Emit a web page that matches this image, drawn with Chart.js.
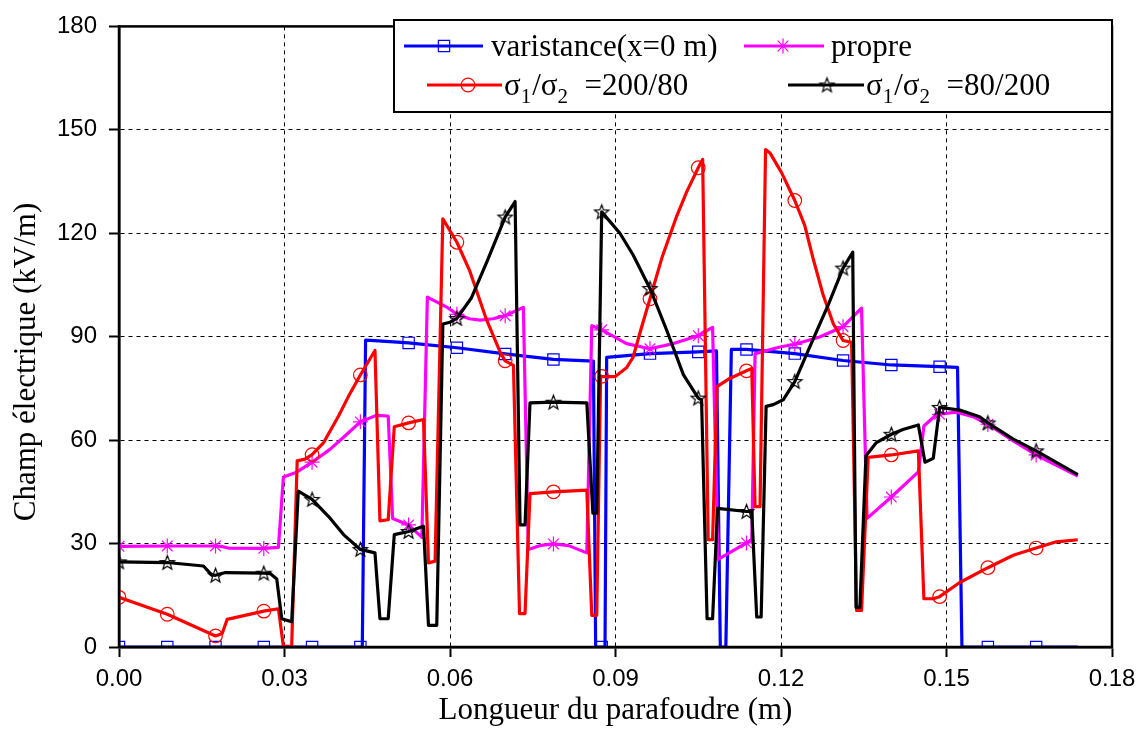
<!DOCTYPE html>
<html>
<head>
<meta charset="utf-8">
<title>Champ électrique le long du parafoudre</title>
<script src="https://cdn.jsdelivr.net/npm/chart.js@4.4.0/dist/chart.umd.min.js"></script>
<style>
  body { margin: 0; background: #fff; }
  #myChart { display: block; }
</style>
</head>
<body>
<canvas id="myChart" width="1146" height="751"></canvas>
<script>
// DATA (x in m, y in kV/m)
const markerX = [0, 0.00875, 0.0175, 0.02625, 0.035, 0.04375, 0.0525, 0.06125, 0.07, 0.07875,
  0.0875, 0.09625, 0.105, 0.11375, 0.1225, 0.13125, 0.14, 0.14875, 0.1575, 0.16625];

const varistance = [
  [0, 0], [0.00875, 0], [0.0175, 0], [0.02625, 0], [0.035, 0], [0.04375, 0], [0.0441, 0],
  [0.0447, 89.0], [0.047, 88.8], [0.0525, 88.2], [0.06125, 86.8], [0.07, 85.0], [0.07875, 83.4],
  [0.086, 82.9], [0.0864, 0], [0.0875, 0], [0.0881, 0], [0.0884, 84.0], [0.09625, 85.1],
  [0.105, 85.6], [0.1083, 85.9], [0.109, 0], [0.11, 0], [0.111, 86.3], [0.11375, 86.3],
  [0.1225, 85.1], [0.13125, 83.1], [0.14, 81.8], [0.14875, 81.3], [0.152, 81.1], [0.1528, 0],
  [0.1575, 0], [0.16625, 0], [0.1738, 0]
];

const propre = [
  [0, 29.2], [0.00875, 29.3], [0.0175, 29.3], [0.0185, 29.2], [0.0198, 28.7], [0.02625, 28.6],
  [0.0289, 28.9], [0.0298, 49.3], [0.0322, 50.7], [0.035, 53.6], [0.0383, 57.4], [0.0413, 61.7],
  [0.04375, 65.3], [0.0467, 67.2], [0.0488, 67.0], [0.0496, 37.3], [0.0525, 35.4], [0.0549, 31.8],
  [0.0559, 101.5], [0.0594, 98.6], [0.06125, 96.5], [0.0635, 95.2], [0.0655, 94.8], [0.0678, 95.2],
  [0.07, 96.1], [0.0733, 98.5], [0.0742, 28.3], [0.0765, 29.5], [0.07875, 29.9], [0.0815, 29.4],
  [0.0848, 27.3], [0.0857, 93.2], [0.0875, 92.0], [0.092, 88.0], [0.09625, 86.5], [0.1005, 88.0],
  [0.105, 90.3], [0.1076, 92.7], [0.1086, 25.4], [0.11375, 30.2], [0.1147, 31.1], [0.1153, 85.1],
  [0.1198, 87.0], [0.1225, 87.8], [0.127, 89.9], [0.13125, 92.9], [0.1346, 98.3], [0.1356, 37.3],
  [0.14, 43.5], [0.1449, 50.8], [0.1459, 64.1], [0.1479, 67.0], [0.14875, 67.5], [0.1518, 68.1],
  [0.1548, 66.8], [0.1575, 64.6], [0.1621, 59.8], [0.16625, 55.7], [0.1738, 49.6]
];

const ratio200_80 = [
  [0, 14.4], [0.00875, 9.5], [0.0165, 3.9], [0.0175, 3.2], [0.0187, 3.9], [0.0196, 8.0],
  [0.02625, 10.4], [0.0289, 11.1], [0.0298, 0.2], [0.0313, 0.2], [0.0323, 54.0], [0.0337, 54.5],
  [0.035, 55.8], [0.0371, 59.3], [0.0398, 67.0], [0.0416, 72.7], [0.04375, 78.9], [0.0464, 86.0],
  [0.0473, 36.6], [0.0488, 36.9], [0.0499, 63.9], [0.0525, 65.0], [0.0552, 66.0], [0.0561, 24.4],
  [0.0573, 24.9], [0.0587, 124.2], [0.06125, 117.4], [0.0636, 109.0], [0.0666, 95.0], [0.0691, 85.5],
  [0.07, 83.0], [0.0715, 81.7], [0.0726, 9.7], [0.0736, 9.7], [0.0745, 44.5], [0.07875, 45.0],
  [0.0848, 45.5], [0.0857, 9.2], [0.0866, 9.2], [0.0873, 78.6], [0.0875, 78.5], [0.0899, 78.4],
  [0.092, 81.0], [0.0932, 84.1], [0.0945, 91.5], [0.09625, 101.0], [0.0984, 112.8], [0.1011, 125.0],
  [0.1029, 132.0], [0.105, 139.0], [0.1058, 141.4], [0.1068, 31.1], [0.1076, 31.1], [0.1084, 75.5],
  [0.1107, 77.9], [0.11375, 80.1], [0.1147, 80.8], [0.1153, 40.7], [0.1162, 40.7], [0.1172, 144.3],
  [0.118, 143.3], [0.1201, 137.6], [0.1225, 129.5], [0.1243, 122.3], [0.1258, 112.8], [0.1276, 102.3],
  [0.1295, 93.7], [0.13125, 88.9], [0.1328, 88.4], [0.1337, 10.6], [0.1346, 10.6], [0.1358, 55.0],
  [0.14, 55.7], [0.1449, 56.9], [0.1459, 14.0], [0.1476, 14.0], [0.14875, 14.6], [0.1524, 18.7],
  [0.1575, 23.0], [0.1621, 26.6], [0.16625, 28.7], [0.1699, 30.5], [0.1738, 31.1]
];

const ratio80_200 = [
  [0, 24.7], [0.00875, 24.5], [0.0153, 23.5], [0.0168, 20.9], [0.0175, 20.8], [0.0193, 21.6],
  [0.02625, 21.4], [0.0274, 21.3], [0.0286, 19.7], [0.0295, 8.2], [0.0313, 7.3], [0.0325, 45.2],
  [0.035, 42.8], [0.0383, 37.3], [0.0407, 32.6], [0.04375, 28.3], [0.0464, 27.3], [0.0473, 8.2],
  [0.0488, 8.2], [0.0499, 32.6], [0.0525, 33.5], [0.0552, 35.0], [0.0561, 6.3], [0.0576, 6.3],
  [0.0587, 93.7], [0.06, 94.2], [0.06125, 95.3], [0.0639, 101.3], [0.0667, 111.8], [0.07, 124.7],
  [0.0718, 129.2], [0.0727, 35.4], [0.0736, 35.4], [0.0745, 70.8], [0.07875, 71.0], [0.0848, 70.8],
  [0.0859, 38.8], [0.0866, 38.8], [0.0875, 126.2], [0.0908, 120.0], [0.0932, 113.7], [0.09625, 104.0],
  [0.0993, 91.8], [0.1023, 79.0], [0.105, 72.2], [0.1056, 71.7], [0.1066, 8.2], [0.1076, 8.2],
  [0.1085, 40.2], [0.11375, 39.3], [0.1147, 39.3], [0.1156, 8.7], [0.1164, 8.7], [0.1173, 69.8],
  [0.1186, 70.3], [0.1204, 71.7], [0.1225, 77.0], [0.1252, 87.0], [0.1286, 99.4], [0.13125, 109.9],
  [0.133, 114.5], [0.1336, 11.5], [0.1343, 11.5], [0.1354, 55.5], [0.1373, 59.3], [0.14, 61.7],
  [0.1421, 63.1], [0.1449, 64.4], [0.1461, 53.6], [0.1476, 54.7], [0.14875, 69.5], [0.1524, 68.7],
  [0.156, 66.8], [0.1575, 65.0], [0.1621, 60.3], [0.16625, 56.9], [0.1738, 50.0]
];

const xTicks = [0, 0.03, 0.06, 0.09, 0.12, 0.15, 0.18];
const yTicks = [0, 30, 60, 90, 120, 150, 180];

const labels = ['varistance(x=0 m)', 'propre', 'σ1/σ2 =200/80', 'σ1/σ2 =80/200'];
const colors = ['#0000ff', '#ff00ff', '#ff0000', '#000000'];
const yTitle = 'Champ électrique (kV/m)';

const serif = "'Liberation Serif', 'Times New Roman', serif";
const sans = "'Liberation Sans', Arial, sans-serif";

// HELPERS
function toPoints(arr) {
  return arr.map(p => ({x: p[0], y: p[1]}));
}

function isMark(x) {
  return markerX.some(m => Math.abs(m - x) < 1e-7);
}

function makeStar(r, color) {
  const c = document.createElement('canvas');
  const s = Math.ceil(r * 2 + 4);
  c.width = s;
  c.height = s;
  const g = c.getContext('2d');
  g.strokeStyle = color;
  g.lineWidth = 1.2;
  g.beginPath();
  for (let i = 0; i < 10; i++) {
    const rad = i % 2 === 0 ? r : r * 0.42;
    const a = -Math.PI / 2 + i * Math.PI / 5;
    const px = s / 2 + rad * Math.cos(a);
    const py = s / 2 + 0.5 + rad * Math.sin(a);
    if (i === 0) g.moveTo(px, py); else g.lineTo(px, py);
  }
  g.closePath();
  g.stroke();
  return c;
}

const starImg = makeStar(7.5, '#000');
const styles = ['rect', 'star', 'circle', starImg];
const radii = [8, 7.5, 6.8, 7.5];

function makeDataset(i, arr) {
  return {
    label: labels[i],
    data: toPoints(arr),
    borderColor: colors[i],
    backgroundColor: 'rgba(0,0,0,0)',
    borderWidth: 3.2,
    tension: 0,
    borderJoinStyle: 'round',
    pointStyle: styles[i],
    pointBorderColor: colors[i],
    pointBackgroundColor: 'rgba(0,0,0,0)',
    pointBorderWidth: 1.2,
    pointRadius: ctx => (ctx.raw && isMark(ctx.raw.x)) ? radii[i] : 0,
    order: 4 - i
  };
}

// draw one legend marker by hand
function drawMarker(ctx, i, x, y) {
  ctx.save();
  ctx.strokeStyle = colors[i];
  ctx.lineWidth = 1.2;
  ctx.beginPath();
  if (i === 0) {
    const h = radii[0] * Math.SQRT1_2;
    ctx.rect(x - h, y - h, 2 * h, 2 * h);
  } else if (i === 1) {
    const r = radii[1];
    ctx.moveTo(x - r, y); ctx.lineTo(x + r, y);
    ctx.moveTo(x, y - r); ctx.lineTo(x, y + r);
    const d = r * Math.SQRT1_2;
    ctx.moveTo(x - d, y - d); ctx.lineTo(x + d, y + d);
    ctx.moveTo(x - d, y + d); ctx.lineTo(x + d, y - d);
  } else if (i === 2) {
    ctx.arc(x, y, radii[2], 0, Math.PI * 2);
  }
  ctx.stroke();
  if (i === 3) ctx.drawImage(starImg, x - starImg.width / 2, y - starImg.height / 2);
  ctx.restore();
}

function drawSigmaText(ctx, x, y, tail) {
  const parts = [['σ', 0], ['1', 1], ['/σ', 0], ['2', 1], [tail, 0]];
  parts.forEach(p => {
    ctx.font = p[1] ? '21px ' + serif : '31px ' + serif;
    ctx.fillText(p[0], x, y + (p[1] ? 8 : 0));
    x += ctx.measureText(p[0]).width + (p[1] ? 1 : 0);
  });
}

// PLUGINS
const framePlugin = {
  id: 'frame',
  afterDraw(chart) {
    const {ctx, chartArea: a} = chart;
    ctx.save();
    ctx.strokeStyle = '#000';
    ctx.lineWidth = 2.5;
    ctx.strokeRect(a.left, a.top, a.right - a.left, a.bottom - a.top);
    // y axis title, drawn by hand to sit a bit below the axis middle
    ctx.translate(27, 362);
    ctx.rotate(-Math.PI / 2);
    ctx.font = '31px ' + serif;
    ctx.fillStyle = '#000';
    ctx.textAlign = 'center';
    ctx.textBaseline = 'middle';
    ctx.fillText(yTitle, 0, 0);
    ctx.restore();
  }
};

const legendPlugin = {
  id: 'boxLegend',
  afterDraw(chart) {
    const ctx = chart.ctx;
    const box = {left: 394, top: 20, right: 1112, bottom: 112};
    ctx.save();
    ctx.fillStyle = '#fff';
    ctx.fillRect(box.left, box.top, box.right - box.left, box.bottom - box.top);
    ctx.strokeStyle = '#000';
    ctx.lineWidth = 2;
    ctx.strokeRect(box.left, box.top, box.right - box.left, box.bottom - box.top);

    // [x1, x2, markerX, textX, rowY]
    const items = [
      [404, 483, 444, 491, 46],
      [744, 824, 783, 831, 46],
      [427, 502, 468, 504, 85],
      [788, 864, 827, 866, 85]
    ];
    items.forEach((it, i) => {
      ctx.strokeStyle = colors[i];
      ctx.lineWidth = 3.2;
      ctx.beginPath();
      ctx.moveTo(it[0], it[4]);
      ctx.lineTo(it[1], it[4]);
      ctx.stroke();
      drawMarker(ctx, i, it[2], it[4]);
      ctx.fillStyle = '#000';
      ctx.textBaseline = 'alphabetic';
      ctx.textAlign = 'left';
      if (i < 2) {
        ctx.font = '31px ' + serif;
        ctx.fillText(labels[i], it[3], it[4] + 10);
      } else {
        drawSigmaText(ctx, it[3], it[4] + 10, i === 2 ? '  =200/80' : '  =80/200');
      }
    });
    ctx.restore();
  }
};

// CHART
const config = {
  type: 'line',
  data: {
    datasets: [
      makeDataset(0, varistance),
      makeDataset(1, propre),
      makeDataset(2, ratio200_80),
      makeDataset(3, ratio80_200)
    ]
  },
  options: {
    responsive: false,
    animation: false,
    devicePixelRatio: 1,
    events: [],
    layout: { padding: { top: 19, right: 34, left: 0, bottom: 0 } },
    plugins: { legend: { display: false }, tooltip: { enabled: false } },
    scales: {
      x: {
        type: 'linear',
        min: xTicks[0],
        max: xTicks[xTicks.length - 1],
        afterBuildTicks: s => { s.ticks = xTicks.map(v => ({value: v})); },
        afterFit: s => { s.height = 104; },
        ticks: {
          callback: v => v.toFixed(2),
          font: { family: sans, size: 24 },
          color: '#000',
          padding: 8,
          maxRotation: 0
        },
        grid: { color: '#000', lineWidth: 1, tickLength: 10, tickWidth: 2, tickColor: '#000' },
        border: { display: true, color: '#000', width: 2.5, dash: [4, 4] },
        title: {
          display: true,
          text: 'Longueur du parafoudre (m)',
          font: { family: serif, size: 31 },
          color: '#000',
          padding: { top: 0, bottom: 22 }
        }
      },
      y: {
        type: 'linear',
        min: yTicks[0],
        max: yTicks[yTicks.length - 1],
        afterBuildTicks: s => { s.ticks = yTicks.map(v => ({value: v})); },
        afterFit: s => { s.width = 119; },
        ticks: {
          font: { family: sans, size: 24 },
          color: '#000',
          padding: 12
        },
        grid: { color: '#000', lineWidth: 1, tickLength: 10, tickWidth: 2, tickColor: '#000' },
        border: { display: true, color: '#000', width: 2.5, dash: [4, 4] }
      }
    }
  },
  plugins: [framePlugin, legendPlugin]
};

const myChart = new Chart(document.getElementById('myChart'), config);
</script>
</body>
</html>
